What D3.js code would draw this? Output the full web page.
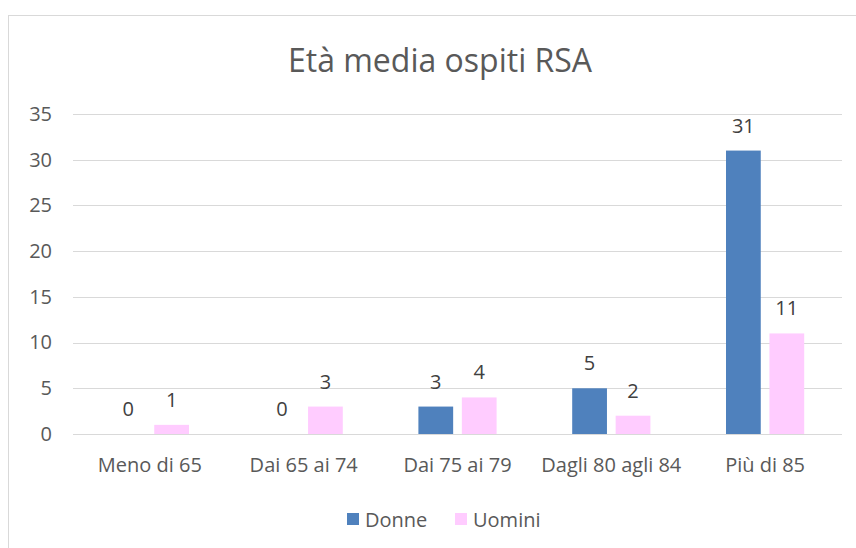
<!DOCTYPE html>
<html>
<head>
<meta charset="utf-8">
<script src="https://cdn.jsdelivr.net/npm/d3@7"></script>
<style>
  body { margin: 0; background: #fff; }
  text { font-family: "Open Sans", "Liberation Sans", sans-serif; }
</style>
</head>
<body>
<div id="chart"></div>
<script>
(function()
{
    var width = 856;
    var height = 548;

    var categories = ["Meno di 65", "Dai 65 ai 74", "Dai 75 ai 79", "Dagli 80 agli 84", "Più di 85"];
    var donne = [0, 0, 3, 5, 31];
    var uomini = [1, 3, 4, 2, 11];
    var seriesNames = ["Donne", "Uomini"];
    var yTicks = [0, 5, 10, 15, 20, 25, 30, 35];

    var colors = {"Donne": "#4F81BD", "Uomini": "#FFCCFF"};

    var rows = categories.map(function(c, i) {
        return {cat: c, values: [{s: "Donne", v: donne[i]}, {s: "Uomini", v: uomini[i]}]};
    });

    var svg = d3.select("#chart")
        .append("svg")
        .attr("width", width)
        .attr("height", height);

    // chart frame
    svg.append("rect")
        .attr("x", 8.5).attr("y", 15.5)
        .attr("width", 900).attr("height", 600)
        .attr("fill", "#fff")
        .attr("stroke", "#d9d9d9");

    svg.append("text")
        .attr("x", 440).attr("y", 72)
        .attr("text-anchor", "middle")
        .attr("font-size", 32)
        .attr("fill", "#595959")
        .text("Età media ospiti RSA");

    var x = d3.scaleBand().domain(categories).range([73, 842]);
    var x1 = d3.scaleBand().domain(seriesNames).range([0, x.bandwidth()]).paddingInner(0.2).paddingOuter(0.87);
    var y = d3.scaleLinear().domain([0, 35]).range([434, 114]);

    // grid
    svg.append("g").selectAll("line").data(yTicks)
        .enter().append("line")
        .attr("x1", 73).attr("x2", 842)
        .attr("y1", function(d){return Math.round(y(d)) + 0.5})
        .attr("y2", function(d){return Math.round(y(d)) + 0.5})
        .attr("stroke", "#d9d9d9")
        .attr("stroke-width", 1);

    var yAxis = d3.axisLeft(y).tickValues(yTicks).tickSize(0).tickPadding(21);
    var gy = svg.append("g").attr("transform", "translate(73,0)").call(yAxis);
    gy.select(".domain").remove();
    gy.selectAll("text").attr("font-size", 20).attr("fill", "#595959").attr("font-family", "Open Sans, sans-serif");

    var xAxis = d3.axisBottom(x).tickSize(0).tickPadding(24);
    var gx = svg.append("g").attr("transform", "translate(0,434)").call(xAxis);
    gx.select(".domain").remove();
    gx.selectAll("text").attr("font-size", 20).attr("fill", "#595959").attr("font-family", "Open Sans, sans-serif");

    var groups = svg.append("g").selectAll("g").data(rows)
        .enter().append("g")
        .attr("transform", function(d){return "translate(" + x(d.cat) + ",0)"});

    groups.selectAll("rect").data(function(d){return d.values})
        .enter().append("rect")
        .attr("x", function(d){return x1(d.s)})
        .attr("width", x1.bandwidth())
        .attr("y", function(d){return y(d.v)})
        .attr("height", function(d){return y(0) - y(d.v)})
        .attr("fill", function(d){return colors[d.s]});

    groups.selectAll("text").data(function(d){return d.values})
        .enter().append("text")
        .attr("x", function(d){return x1(d.s) + x1.bandwidth() / 2})
        .attr("y", function(d){return y(d.v) - 18})
        .attr("text-anchor", "middle")
        .attr("font-size", 20)
        .attr("fill", "#404040")
        .text(function(d){return d.v});

    // legend
    var legend = svg.append("g").selectAll("g").data(seriesNames)
        .enter().append("g")
        .attr("transform", function(d, i){return "translate(" + (347 + i * 108) + ",513)"});
    legend.append("rect").attr("width", 12).attr("height", 12)
        .attr("fill", function(d){return colors[d]});
    legend.append("text").attr("x", 18).attr("y", 14)
        .attr("font-size", 20).attr("fill", "#595959")
        .text(function(d){return d});
})();
</script>
</body>
</html>
